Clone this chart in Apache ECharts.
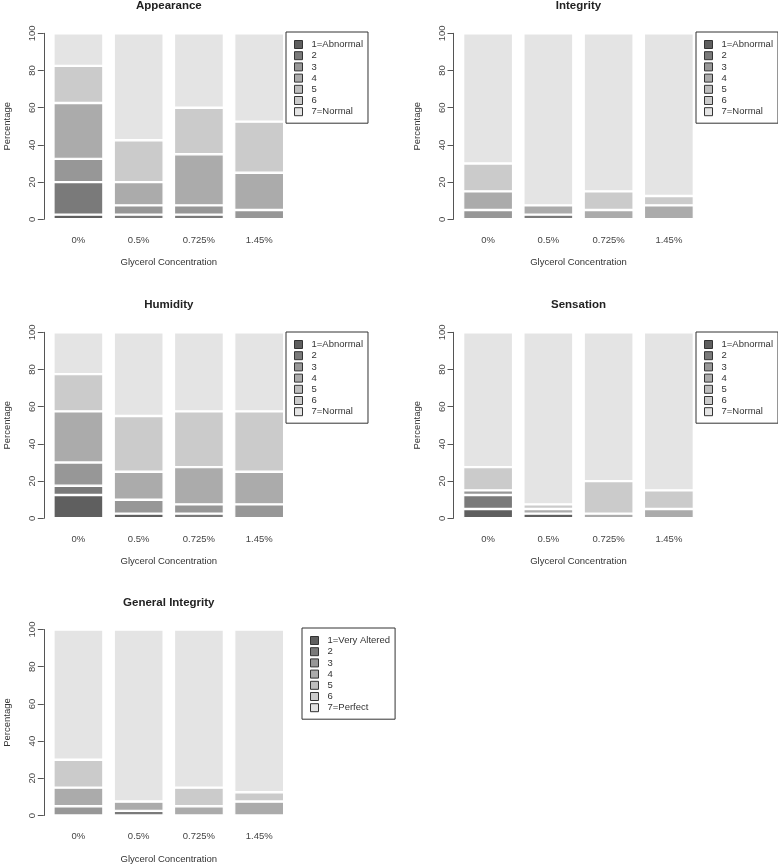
<!DOCTYPE html>
<html>
<head>
<meta charset="utf-8">
<script src="https://cdn.jsdelivr.net/npm/echarts@6/dist/echarts.min.js"></script>
<style>
html,body{margin:0;padding:0;background:#fff;}
#chart{width:778px;height:865px;}
</style>
</head>
<body>
<div id="chart"></div>
<script>
// ---- data ----
const categories = ['0%', '0.5%', '0.725%', '1.45%'];
const yTicks = [0, 20, 40, 60, 80, 100];
const scoreNames = ['1=Abnormal', '2', '3', '4', '5', '6', '7=Normal'];
const scoreNamesGeneral = ['1=Very Altered', '2', '3', '4', '5', '6', '7=Perfect'];
const panelTitles = ['Appearance', 'Integrity', 'Humidity', 'Sensation', 'General Integrity'];

// rows = score 1..7, columns = glycerol concentration (percentages)
const appearance = [
  [2.5, 0, 0, 0],
  [17.5, 2.5, 2.5, 0],
  [12.5, 5, 5, 5],
  [30, 12.5, 27.5, 20],
  [0, 0, 0, 0],
  [20, 22.5, 25, 27.5],
  [17.5, 57.5, 40, 47.5]
];
const integrity = [
  [0, 0, 0, 0],
  [0, 2.5, 0, 0],
  [5, 0, 0, 0],
  [10, 5, 5, 7.5],
  [0, 0, 0, 0],
  [15, 0, 10, 5],
  [70, 92.5, 85, 87.5]
];
const humidity = [
  [12.5, 2.5, 0, 0],
  [5, 0, 2.5, 0],
  [12.5, 7.5, 5, 7.5],
  [27.5, 15, 20, 17.5],
  [0, 0, 0, 0],
  [20, 30, 30, 32.5],
  [22.5, 45, 42.5, 42.5]
];
const sensation = [
  [5, 2.5, 0, 0],
  [7.5, 0, 0, 0],
  [2.5, 0, 0, 0],
  [0, 2.5, 2.5, 5],
  [0, 0, 0, 0],
  [12.5, 2.5, 17.5, 10],
  [72.5, 92.5, 80, 85]
];
const generalIntegrity = [
  [0, 0, 0, 0],
  [0, 2.5, 0, 0],
  [5, 0, 0, 0],
  [10, 5, 5, 7.5],
  [0, 0, 0, 0],
  [15, 0, 10, 5],
  [70, 92.5, 85, 87.5]
];

// ---- styles / layout ----
const greys = ['#5f5f5f', '#7a7a7a', '#979797', '#ababab', '#bebebe', '#cbcbcb', '#e4e4e4'];
const FONT = 'Liberation Sans, Arial, Helvetica, sans-serif';
const panels = [
  { data: appearance, names: scoreNames, left: 48.3, top: 33.3, legendL: 286, legendT: 32 },
  { data: integrity, names: scoreNames, left: 458, top: 33.3, legendL: 696, legendT: 32 },
  { data: humidity, names: scoreNames, left: 48.3, top: 332.3, legendL: 286, legendT: 332 },
  { data: sensation, names: scoreNames, left: 458, top: 332.3, legendL: 696, legendT: 332 },
  { data: generalIntegrity, names: scoreNamesGeneral, left: 48.3, top: 629.5, legendL: 302, legendT: 628 }
];
const GW = 241, GH = 186;

const grid = [], xAxis = [], yAxis = [], series = [], legend = [], title = [];
panels.forEach((p, i) => {
  grid.push({ left: p.left, top: p.top, width: GW, height: GH });
  xAxis.push({
    type: 'category', gridIndex: i, data: categories,
    axisLine: { show: false }, axisTick: { show: false },
    axisLabel: { fontSize: 9.5, color: '#444', margin: 16, fontFamily: FONT },
    name: 'Glycerol Concentration', nameLocation: 'middle', nameGap: 38.5,
    nameTextStyle: { fontSize: 9.5, color: '#333', fontFamily: FONT }
  });
  yAxis.push({
    type: 'value', gridIndex: i, min: 0, max: 100, interval: 20, offset: 4.5,
    splitLine: { show: false },
    axisLine: { show: true, lineStyle: { color: '#555', width: 1 } },
    axisTick: { show: true, length: 6, lineStyle: { color: '#555' } },
    axisLabel: { rotate: 90, fontSize: 9.5, color: '#444', margin: 6, fontFamily: FONT,
      formatter: v => (yTicks.indexOf(v) >= 0 ? String(v) : '') },
    name: 'Percentage', nameLocation: 'middle', nameGap: 31,
    nameTextStyle: { fontSize: 9.5, color: '#333', fontFamily: FONT }
  });
  p.data.forEach((row, k) => {
    series.push({
      type: 'bar', name: p.names[k], xAxisIndex: i, yAxisIndex: i, stack: 'panel' + i,
      barCategoryGap: '17%',
      data: row.map(v => (v === 0 ? null : v)),
      itemStyle: { color: greys[k], borderColor: '#ffffff', borderWidth: 1.2 },
      emphasis: { disabled: true }
    });
  });
  legend.push({
    orient: 'vertical', left: p.legendL, top: p.legendT,
    data: p.names, icon: 'rect', itemWidth: 8, itemHeight: 8, itemGap: 0.2,
    selectedMode: false,
    padding: [7, 5, 6, 8],
    borderColor: '#333', borderWidth: 1,
    itemStyle: { borderColor: '#333', borderWidth: 1 },
    textStyle: { fontSize: 9.5, color: '#333', lineHeight: 11, fontFamily: FONT, padding: [0, 0, 0, 4] }
  });
  title.push({
    text: panelTitles[i], left: p.left + GW / 2, top: p.top - 33, textAlign: 'center', padding: 0,
    textStyle: { fontSize: 11.5, fontWeight: 'bold', color: '#222', fontFamily: FONT }
  });
});

const chart = echarts.init(document.getElementById('chart'), null, { renderer: 'canvas' });
chart.setOption({
  backgroundColor: '#ffffff',
  animation: false,
  title, grid, xAxis, yAxis, series, legend
});
</script>
</body>
</html>
